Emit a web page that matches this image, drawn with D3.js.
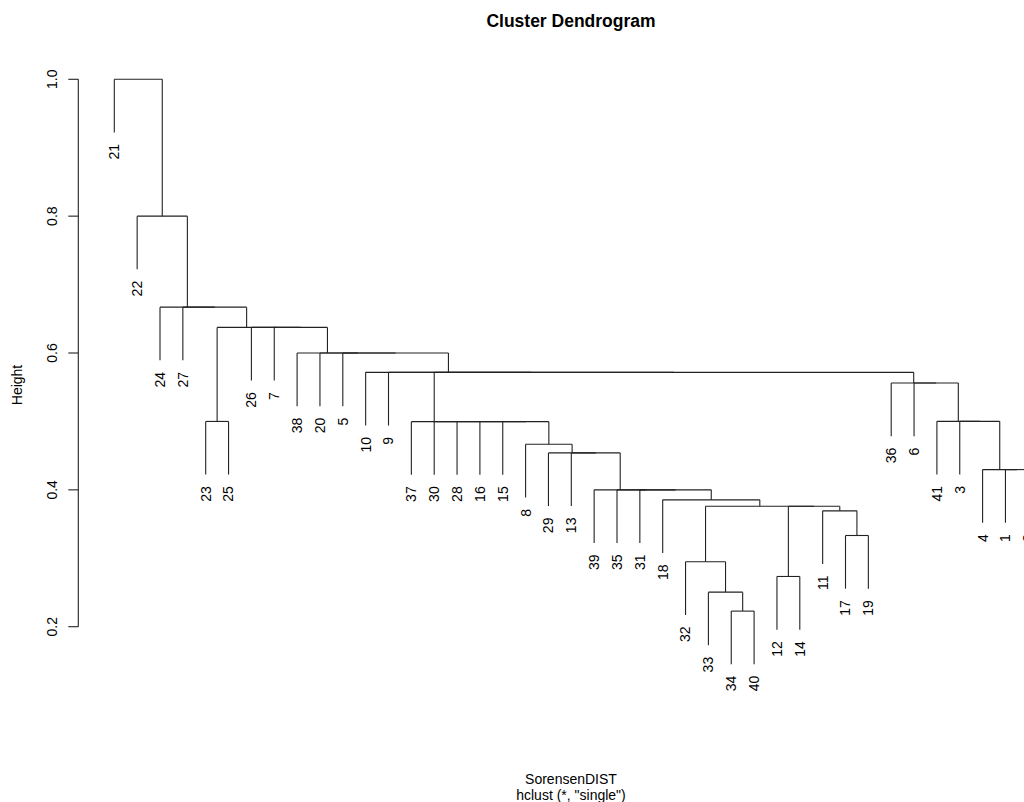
<!DOCTYPE html>
<html>
<head>
<meta charset="utf-8">
<script src="https://cdn.jsdelivr.net/npm/d3@7"></script>
<style>
  html, body { margin: 0; padding: 0; background: #fff; }
  svg { display: block; }
  text { font-family: "Liberation Sans", Arial, sans-serif; fill: #000; }
</style>
</head>
<body>
<svg id="chart" width="1024" height="802"></svg>
<script>
// ---- Data: single-linkage merges (left, right, height); numbers = leaves, "nK" = the K-th merge ----
const mergeLeft  = [34, 33, 32, 12, 17, 11, "n4", "n3", 18, 31, 35, 39, 13, 29, 8, 15, 16, 28, 30, 37, 1, 4, 3, 41, 6, 36, "n20", 9, 10, 5, 20, 38, 7, 26, 23, "n35", 27, 24, 22, 21];
const mergeRight = [40, "n1", "n2", 14, 19, "n5", "n6", "n7", "n8", "n9", "n10", "n11", "n12", "n13", "n14", "n15", "n16", "n17", "n18", "n19", 2, "n21", "n22", "n23", "n24", "n25", "n26", "n27", "n28", "n29", "n30", "n31", "n32", "n33", 25, "n34", "n36", "n37", "n38", "n39"];
const mergeHeight = [0.2228, 0.2505, 0.2949, 0.2734, 0.3333, 0.3693, 0.376, 0.376, 0.3854, 0.4, 0.4, 0.4, 0.454, 0.454, 0.4666, 0.4997, 0.4997, 0.4997, 0.4997, 0.4997, 0.4296, 0.4296, 0.5001, 0.5001, 0.5562, 0.5562, 0.5717, 0.5717, 0.5717, 0.6, 0.6, 0.6, 0.6374, 0.6374, 0.5, 0.6374, 0.667, 0.667, 0.8, 1.0];
const yTicks = [0.2, 0.4, 0.6, 0.8, 1.0];
const titleText = "Cluster Dendrogram";
const xLabelText = "SorensenDIST";
const subText = 'hclust (*, "single")';
const yLabelText = "Height";

// ---- Build tree ----
const nodes = {};
mergeLeft.forEach((l, i) => {
  nodes["n" + (i + 1)] = { left: l, right: mergeRight[i], height: mergeHeight[i] };
});
const root = nodes["n" + mergeLeft.length];
const leafOrder = [];
function collect(c) {
  if (typeof c === "number") { leafOrder.push(c); return; }
  const n = nodes[c] || c;
  collect(n.left); collect(n.right);
}
collect(root);

const hMax = d3.max(mergeHeight), hMin = d3.min(mergeHeight);
const hang = 0.1 * (hMax - hMin);

const x = d3.scaleLinear().domain([1, leafOrder.length]).range([114.3, 114.3 + 40 * 22.85]);
const y = d3.scaleLinear().domain([0.2, 1.0]).range([626.7, 79.3]);

const svg = d3.select("#chart");
const g = svg.append("g");
const segs = [];
const leaves = [];

function layout(c, parentH) {
  if (typeof c === "number") {
    const idx = leafOrder.indexOf(c) + 1;
    const bottom = parentH - hang;
    segs.push([x(idx), y(parentH), x(idx), y(bottom)]);
    leaves.push({ label: c, x: x(idx), y: y(bottom) });
    return idx;
  }
  const n = nodes[c] || c;
  const xl = layout(n.left, n.height);
  const xr = layout(n.right, n.height);
  segs.push([x(xl), y(n.height), x(xr), y(n.height)]);
  const xm = (xl + xr) / 2;
  if (parentH !== null) segs.push([x(xm), y(parentH), x(xm), y(n.height)]);
  return xm;
}
layout(root, null);

g.selectAll("line.seg").data(segs).enter().append("line")
  .attr("class", "seg")
  .attr("x1", d => d[0]).attr("y1", d => d[1])
  .attr("x2", d => d[2]).attr("y2", d => d[3])
  .attr("stroke", "#222").attr("stroke-width", 1.1);

g.selectAll("text.leaf").data(leaves).enter().append("text")
  .attr("class", "leaf")
  .attr("transform", d => `translate(${d.x},${d.y + 11.5}) rotate(-90)`)
  .attr("text-anchor", "end")
  .attr("dy", "0.35em")
  .attr("font-size", 14)
  .text(d => d.label);

// ---- Y axis ----
const axisX = 78.3;
const ax = svg.append("g");
ax.append("line").attr("x1", axisX).attr("x2", axisX)
  .attr("y1", y(yTicks[0])).attr("y2", y(yTicks[yTicks.length - 1]))
  .attr("stroke", "#222").attr("stroke-width", 1.1);
ax.selectAll("line.tick").data(yTicks).enter().append("line")
  .attr("x1", axisX - 10).attr("x2", axisX)
  .attr("y1", d => y(d)).attr("y2", d => y(d))
  .attr("stroke", "#222").attr("stroke-width", 1.1);
ax.selectAll("text.tick").data(yTicks).enter().append("text")
  .attr("transform", d => `translate(52.5,${y(d)}) rotate(-90)`)
  .attr("text-anchor", "middle")
  .attr("dy", "0.35em")
  .attr("font-size", 14)
  .text(d => d3.format(".1f")(d));

// ---- Titles ----
svg.append("text").attr("x", 571).attr("y", 27).attr("text-anchor", "middle")
  .attr("font-size", 17.5).attr("font-weight", "bold").text(titleText);
svg.append("text").attr("x", 571).attr("y", 784).attr("text-anchor", "middle")
  .attr("font-size", 14).text(xLabelText);
svg.append("text").attr("x", 571).attr("y", 799.5).attr("text-anchor", "middle")
  .attr("font-size", 14).text(subText);
svg.append("text").attr("transform", "translate(21.5,385) rotate(-90)")
  .attr("text-anchor", "middle").attr("font-size", 14).text(yLabelText);
</script>
</body>
</html>
